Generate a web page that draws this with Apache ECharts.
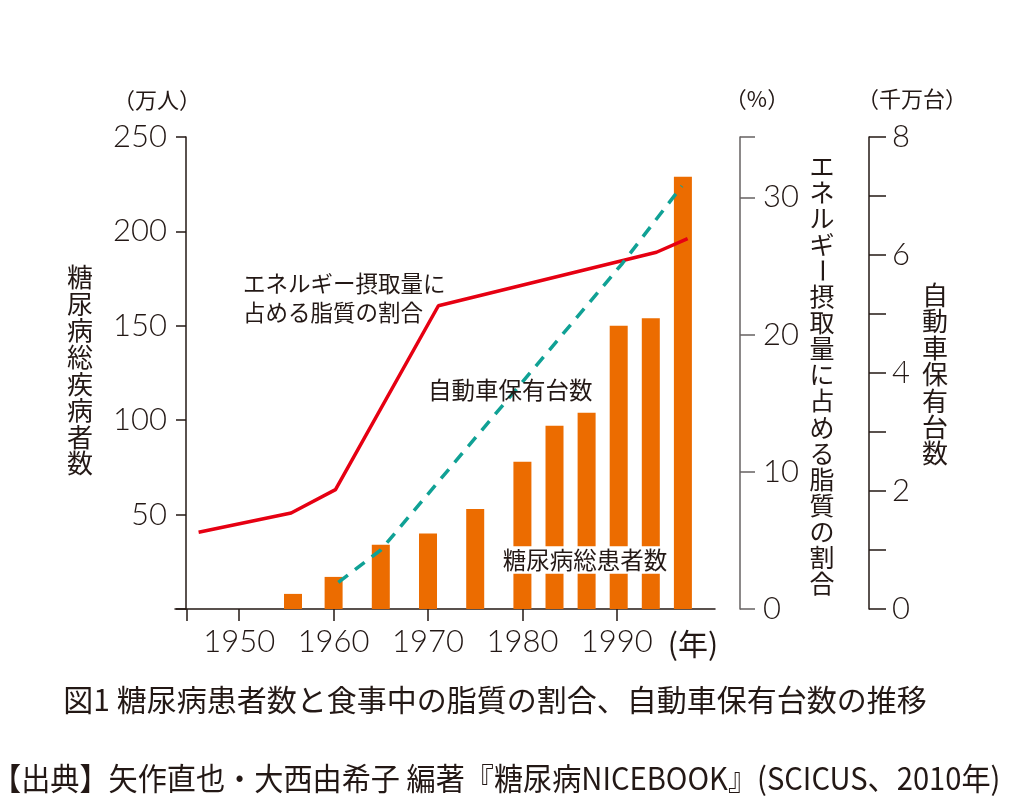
<!DOCTYPE html>
<html><head><meta charset="utf-8">
<script src="https://cdn.jsdelivr.net/npm/echarts@6/dist/echarts.min.js"></script>
<style>html,body{margin:0;padding:0;background:#fff}#c{width:1029px;height:802px}</style>
</head><body><div id="c"></div>
<script>
// ---- data ----
const barYears = [1955.7, 1960.0, 1965.0, 1970.0, 1975.0, 1980.0, 1983.4, 1986.8, 1990.2, 1993.6, 1997.0];
const patients = [8, 17, 34, 40, 53, 78, 97, 104, 150, 154, 229];          // 万人
const fatYears = [1945.7, 1955.5, 1960.2, 1971.1, 1994.2, 1997.5];
const fatShare = [5.6, 7.0, 8.7, 22.1, 26.0, 27.0];                          // %
const carYears = [1960.5, 1965.0, 1990.6, 1996.9];
const cars = [0.45, 1.0, 5.86, 7.17];                                        // 千万台
const xTickLabels = [1950, 1960, 1970, 1980, 1990];
const leftTickLabels = [50, 100, 150, 200, 250];
const pctTickLabels = [0, 10, 20, 30];
const carTickLabels = [0, 2, 4, 6, 8];

const INK = '#231815';
const FONT = '"Noto Sans CJK JP", "Noto Sans", sans-serif';
const NUMFONT = 'Lato, "Noto Sans", sans-serif';

const chart = echarts.init(document.getElementById('c'), null, {renderer: 'canvas'});

function vtext(str, cx, top, step, size) {
  const chars = str.split('');
  return chars.map((ch, i) => ({
    type: 'text', x: cx, y: top + step * (i + 0.5), z: 100,
    rotation: ch === 'ー' ? -Math.PI / 2 : 0,
    style: {text: ch, fill: INK, font: size + 'px ' + FONT,
      align: 'center', verticalAlign: 'middle', textAlign: 'center', textVerticalAlign: 'middle'}
  }));
}
function htext(str, x, y, size, align, extra) {
  return {
    type: 'text', x: x, y: y, z: 100,
    style: Object.assign({text: str, fill: INK, font: size + 'px ' + FONT,
      align: align || 'center', verticalAlign: 'middle', textAlign: align || 'center', textVerticalAlign: 'middle'}, extra || {})
  };
}

const axisLbl = {color: INK, fontSize: 31, fontFamily: NUMFONT, fontWeight: 300, formatter: v => String(v)};

const option = {
  backgroundColor: '#fff',
  animation: false,
  grid: {left: 175, right: 314, top: 137, bottom: 193, containLabel: false},
  xAxis: {
    type: 'value', min: 1943.2, max: 2000.4,
    axisLine: {show: true, lineStyle: {color: INK, width: 1.5}},
    axisTick: {show: true, length: 12, lineStyle: {color: INK, width: 1.5},
      customValues: [1944.4].concat(xTickLabels)},
    axisLabel: Object.assign({}, axisLbl, {customValues: xTickLabels, margin: 17}),
    splitLine: {show: false}
  },
  yAxis: [
    {
      type: 'value', min: 0, max: 250, interval: 50, position: 'left', offset: -11,
      axisLine: {show: true, lineStyle: {color: INK, width: 1.5}},
      axisTick: {show: true, length: 10, lineStyle: {color: INK, width: 1.5}},
      axisLabel: Object.assign({}, axisLbl, {customValues: leftTickLabels, margin: 19}),
      splitLine: {show: false}
    },
    {
      type: 'value', min: 0, max: 34.4, position: 'right', offset: 25,
      axisLine: {show: true, lineStyle: {color: '#666262', width: 1.5}},
      axisTick: {show: true, length: 15, lineStyle: {color: '#666262', width: 1.5},
        customValues: pctTickLabels.concat([34.4])},
      axisLabel: Object.assign({}, axisLbl, {customValues: pctTickLabels, margin: 23}),
      splitLine: {show: false}
    },
    {
      type: 'value', min: 0, max: 8, interval: 1, position: 'right', offset: 154,
      axisLine: {show: true, lineStyle: {color: INK, width: 1.5}},
      axisTick: {show: true, length: 17, lineStyle: {color: INK, width: 1.5}},
      axisLabel: Object.assign({}, axisLbl, {customValues: carTickLabels, margin: 23}),
      splitLine: {show: false}
    }
  ],
  series: [
    {
      type: 'bar', name: '糖尿病総患者数', yAxisIndex: 0, barWidth: 18,
      itemStyle: {color: '#ec6c00'},
      data: barYears.map((y, i) => [y, patients[i]]), z: 2
    },
    {
      type: 'line', name: 'エネルギー摂取量に占める脂質の割合', yAxisIndex: 1,
      symbol: 'none', lineStyle: {color: '#e60012', width: 3.5},
      data: fatYears.map((y, i) => [y, fatShare[i]]), z: 3
    },
    {
      type: 'line', name: '自動車保有台数', yAxisIndex: 2,
      symbol: 'none', lineStyle: {color: '#10a195', width: 3.5, type: [12, 9]},
      data: carYears.map((y, i) => [y, cars[i]]), z: 4
    }
  ],
  graphic: [].concat(
    [
      htext('（万人）', 157, 100, 22),
      htext('（%）', 757, 99, 22),
      htext('（千万台）', 912, 99, 22),
      htext('(年)', 693, 644, 30),
      htext('エネルギー摂取量に', 243, 283, 22.5, 'left'),
      htext('占める脂質の割合', 243, 312, 22.5, 'left'),
      htext('自動車保有台数', 428, 390, 23.5, 'left'),
      htext('糖尿病総患者数', 585, 560, 23.5, 'center', {backgroundColor: '#fff', padding: [2, 2]}),
      htext('図1 糖尿病患者数と食事中の脂質の割合、自動車保有台数の推移', 495, 700, 30),
      {type: 'text', x: -8, y: 778, z: 100, scaleX: 0.94,
        style: {text: '【出典】矢作直也・大西由希子 編著『糖尿病NICEBOOK』(SCICUS、2010年)', fill: INK,
          font: '31px ' + FONT, align: 'left', verticalAlign: 'middle', textAlign: 'left', textVerticalAlign: 'middle'}}
    ],
    vtext('糖尿病総疾病者数', 80, 264, 26.6, 26),
    vtext('エネルギー摂取量に占める脂質の割合', 822, 153, 26.1, 25),
    vtext('自動車保有台数', 935, 282, 26.4, 26)
  )
};
chart.setOption(option);
</script>
</body></html>
